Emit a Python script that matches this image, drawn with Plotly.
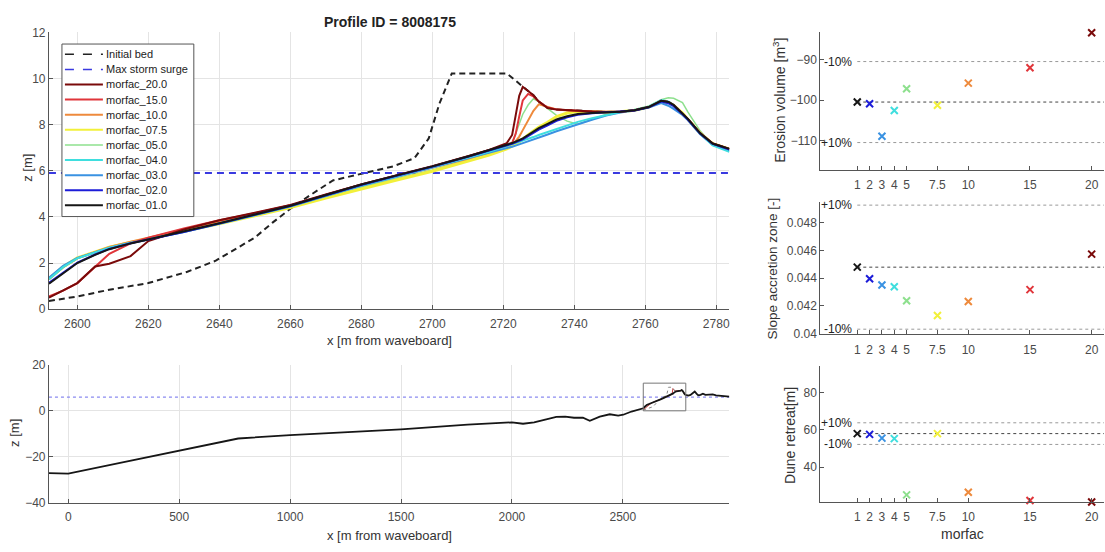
import plotly.graph_objects as go

# ---------------- data: main (zoomed) profile panel ----------------
x_grid = [2592, 2596, 2600, 2605, 2609, 2615, 2620, 2630, 2640, 2650, 2660, 2670, 2680, 2690,
          2700, 2710, 2716, 2721, 2722.5, 2723.5, 2724.5, 2725.5, 2727, 2728.5, 2730, 2732.5,
          2735, 2738, 2741, 2745, 2749, 2753, 2757, 2761, 2764.5, 2766.5, 2768, 2770.5, 2772,
          2775.5, 2779, 2783.7]

z_mf20 = [0.50, 0.80, 1.13, 1.85, 1.97, 2.30, 2.95, 3.45, 3.85, 4.18, 4.52, 4.97, 5.41, 5.81, 6.20,
          6.63, 6.90, 7.20, 7.55, 8.40, 9.25, 9.64, 9.45, 9.27, 9.00, 8.72, 8.65, 8.62, 8.60, 8.57,
          8.55, 8.56, 8.62, 8.76, 9.03, 8.98, 8.85, 8.50, 8.25, 7.62, 7.18, 6.95]
z_mf15 = [0.55, 0.80, 1.13, 1.85, 2.40, 2.85, 3.10, 3.50, 3.85, 4.16, 4.50, 4.96, 5.40, 5.80, 6.19,
          6.62, 6.88, 7.13, 7.20, 7.60, 8.35, 9.05, 9.33, 9.22, 9.00, 8.74, 8.66, 8.62, 8.60, 8.57,
          8.55, 8.56, 8.62, 8.76, 9.03, 8.98, 8.85, 8.50, 8.25, 7.62, 7.18, 6.95]
z_mf10 = [1.30, 1.82, 2.20, 2.48, 2.70, 2.92, 3.10, 3.45, 3.80, 4.14, 4.50, 4.93, 5.36, 5.74, 6.12,
          6.52, 6.80, 7.08, 7.16, 7.28, 7.48, 7.76, 8.20, 8.60, 8.88, 8.78, 8.66, 8.61, 8.58, 8.56,
          8.54, 8.56, 8.62, 8.76, 9.03, 8.98, 8.85, 8.50, 8.25, 7.62, 7.18, 6.95]
z_mf075 = [1.32, 1.84, 2.22, 2.48, 2.68, 2.89, 3.06, 3.37, 3.70, 4.04, 4.40, 4.82, 5.22, 5.60, 5.98,
           6.40, 6.68, 6.95, 7.05, 7.15, 7.25, 7.38, 7.55, 7.72, 7.88, 8.10, 8.35, 8.50, 8.57, 8.56,
           8.54, 8.56, 8.62, 8.76, 9.02, 8.96, 8.84, 8.50, 8.25, 7.62, 7.17, 6.93]
z_mf05 = [1.30, 1.80, 2.20, 2.48, 2.68, 2.88, 3.05, 3.35, 3.70, 4.05, 4.42, 4.85, 5.28, 5.65, 6.03,
          6.45, 6.72, 6.98, 7.20, 7.60, 8.05, 8.45, 8.85, 9.12, 9.00, 8.72, 8.40, 8.15, 8.02, 8.22,
          8.45, 8.56, 8.62, 8.80, 9.08, 9.16, 9.14, 8.95, 8.55, 7.72, 7.12, 6.85]
z_mf04 = [1.30, 1.82, 2.20, 2.46, 2.66, 2.88, 3.04, 3.35, 3.71, 4.08, 4.46, 4.91, 5.36, 5.75, 6.14,
          6.56, 6.82, 7.07, 7.13, 7.18, 7.23, 7.28, 7.37, 7.46, 7.55, 7.68, 7.82, 7.98, 8.12, 8.28,
          8.42, 8.55, 8.64, 8.79, 9.06, 9.00, 8.86, 8.50, 8.24, 7.60, 7.10, 6.82]
z_mf03 = [1.36, 1.88, 2.22, 2.47, 2.66, 2.87, 3.03, 3.34, 3.70, 4.07, 4.45, 4.90, 5.35, 5.74, 6.13,
          6.53, 6.77, 6.98, 7.04, 7.09, 7.14, 7.19, 7.27, 7.35, 7.44, 7.57, 7.71, 7.87, 8.02, 8.21,
          8.39, 8.52, 8.61, 8.74, 8.93, 8.82, 8.68, 8.42, 8.20, 7.58, 7.12, 6.85]
z_mf02 = [1.14, 1.58, 2.02, 2.37, 2.61, 2.86, 3.02, 3.34, 3.71, 4.09, 4.47, 4.93, 5.38, 5.78, 6.17,
          6.60, 6.86, 7.10, 7.17, 7.23, 7.29, 7.36, 7.50, 7.64, 7.78, 7.97, 8.16, 8.32, 8.43, 8.49,
          8.52, 8.55, 8.61, 8.75, 9.00, 8.93, 8.80, 8.46, 8.22, 7.60, 7.16, 6.92]
z_mf01 = [1.10, 1.55, 2.00, 2.35, 2.60, 2.85, 3.02, 3.35, 3.72, 4.10, 4.48, 4.95, 5.40, 5.80, 6.19,
          6.62, 6.88, 7.13, 7.20, 7.26, 7.32, 7.40, 7.55, 7.70, 7.85, 8.03, 8.22, 8.36, 8.46, 8.50,
          8.52, 8.56, 8.62, 8.76, 9.03, 8.98, 8.85, 8.50, 8.25, 7.62, 7.18, 6.95]

x_init = [2592, 2600, 2609, 2620, 2631, 2639, 2650, 2655, 2660, 2665, 2672, 2680, 2689, 2695, 2699,
          2702, 2705.5, 2721, 2725.5, 2727, 2728.5, 2730, 2732.5, 2735, 2741, 2749, 2753, 2757,
          2761, 2764.5, 2766.5, 2768, 2770.5, 2772, 2775.5, 2779, 2783.7]
z_init = [0.35, 0.55, 0.84, 1.13, 1.62, 2.10, 3.10, 3.75, 4.35, 4.88, 5.58, 5.88, 6.19, 6.55, 7.40,
          8.90, 10.22, 10.22, 9.64, 9.45, 9.27, 9.00, 8.72, 8.65, 8.60, 8.55, 8.56, 8.62, 8.76,
          9.03, 8.98, 8.85, 8.50, 8.25, 7.62, 7.18, 6.95]

storm_surge = 5.9

series_names = ["morfac_20.0", "morfac_15.0", "morfac_10.0", "morfac_07.5", "morfac_05.0",
                "morfac_04.0", "morfac_03.0", "morfac_02.0", "morfac_01.0"]
series_z = [z_mf20, z_mf15, z_mf10, z_mf075, z_mf05, z_mf04, z_mf03, z_mf02, z_mf01]
series_colors = ["#7a0a0a", "#e0353a", "#ee8a3c", "#f2f03a", "#8ee08e", "#3fdede", "#3a92e2",
                 "#1c1cd8", "#161616"]
series_widths = [2, 2, 2, 3, 1.5, 2, 2, 2, 2]

# ---------------- data: full profile (bottom-left) ----------------
x_offshore = [-87, 0, 250, 500, 766, 1000, 1250, 1500, 1800, 2000, 2050, 2100, 2150, 2200, 2240,
              2280, 2320, 2351, 2396, 2441, 2479, 2502, 2539, 2577]
z_offshore = [-27.0, -27.2, -22.2, -17.3, -12.0, -10.5, -9.3, -8.0, -6.0, -5.0, -5.6, -5.0, -3.8,
              -2.6, -2.5, -3.0, -3.0, -4.3, -2.5, -1.5, -2.1, -1.7, -0.3, 0.7]
x_landward = [2795, 2805, 2815, 2824, 2832, 2840, 2850, 2861, 2872, 2890, 2905, 2920, 2940, 2960, 2980]
z_landward = [6.6, 6.9, 7.6, 8.4, 7.5, 6.7, 6.9, 7.4, 6.9, 6.9, 7.1, 6.7, 6.5, 6.4, 6.2]

# ---------------- data: right panels ----------------
morfac = [1, 2, 3, 4, 5, 7.5, 10, 15, 20]
morfac_ticks = ["1", "2", "3", "4", "5", "7.5", "10", "15", "20"]
erosion_volume = [-100.5, -100.9, -109.0, -102.6, -97.2, -101.3, -95.8, -92.0, -83.3]
slope_accretion = [0.04479, 0.04395, 0.04350, 0.04338, 0.04236, 0.04130, 0.04231, 0.04317, 0.04573]
dune_retreat = [58.0, 57.6, 55.6, 55.3, 25.2, 58.0, 26.6, 22.2, 21.4]
marker_colors = ["#161616", "#1c1cd8", "#3a92e2", "#3fdede", "#8ee08e", "#f2f03a", "#ee8a3c",
                 "#e0353a", "#7a0a0a"]

# ---------------- figure ----------------
W, H = 1105, 552
FONT = "Liberation Sans, Arial, sans-serif"
TICKC = "#4a4a4a"
AXC = "#555555"
GRIDC = "#e4e4e4"


def px_x(p):
    return p / W


def px_y(p):
    return 1 - p / H


main_x_range = [2592, 2783.7]
main_y_range = [0, 12]

fig = go.Figure()

# main panel
fig.add_trace(go.Scatter(x=x_init, y=z_init, mode="lines", xaxis="x", yaxis="y",
                         line=dict(color="#222222", width=2, dash="6px,4px"), showlegend=False))
fig.add_trace(go.Scatter(x=main_x_range, y=[storm_surge, storm_surge], mode="lines", xaxis="x", yaxis="y",
                         line=dict(color="#3a3ae0", width=2, dash="7px,5px"), showlegend=False))
order = [4, 3, 2, 6, 5, 1, 0, 7, 8]
for i in order:
    fig.add_trace(go.Scatter(x=x_grid, y=series_z[i], mode="lines", xaxis="x", yaxis="y",
                             line=dict(color=series_colors[i], width=series_widths[i]),
                             name=series_names[i], showlegend=False))

# bottom-left full profile
x_full = x_offshore + x_grid + x_landward
z_full = z_offshore + z_mf01 + z_landward
bottom_x_range = [-87, 2980]
fig.add_trace(go.Scatter(x=bottom_x_range, y=[storm_surge, storm_surge], mode="lines", xaxis="x2", yaxis="y2",
                         line=dict(color="#8a8af0", width=1.2, dash="dot"), showlegend=False))
fig.add_trace(go.Scatter(x=x_grid, y=z_mf20, mode="lines", xaxis="x2", yaxis="y2",
                         line=dict(color="#d04040", width=1), showlegend=False))
fig.add_trace(go.Scatter(x=x_init, y=z_init, mode="lines", xaxis="x2", yaxis="y2",
                         line=dict(color="#888888", width=1, dash="dot"), showlegend=False))
fig.add_trace(go.Scatter(x=x_full, y=z_full, mode="lines", xaxis="x2", yaxis="y2",
                         line=dict(color="#161616", width=1.8), showlegend=False))

# right panels
right_data = [("x3", "y3", erosion_volume), ("x4", "y4", slope_accretion), ("x5", "y5", dune_retreat)]
for xa, ya, vals in right_data:
    ref = vals[0]
    for frac, col in [(0.9, "#9a9a9a"), (1.0, "#444444"), (1.1, "#9a9a9a")]:
        fig.add_trace(go.Scatter(x=[1, 21], y=[ref * frac, ref * frac], mode="lines", xaxis=xa, yaxis=ya,
                                 line=dict(color=col, width=1, dash="dot"), showlegend=False))
    fig.add_trace(go.Scatter(x=morfac, y=vals, mode="markers", xaxis=xa, yaxis=ya, cliponaxis=False,
                             marker=dict(symbol="x-thin", size=7, line=dict(width=2, color=marker_colors)),
                             showlegend=False))

# percentage labels (from reference values)
pct_labels = [("x3", "y3", erosion_volume[0] * 0.9, "-10%"), ("x3", "y3", erosion_volume[0] * 1.1, "+10%"),
              ("x4", "y4", slope_accretion[0] * 1.1, "+10%"), ("x4", "y4", slope_accretion[0] * 0.9, "-10%"),
              ("x5", "y5", dune_retreat[0] * 1.1, "+10%"), ("x5", "y5", dune_retreat[0] * 0.9, "-10%")]
annotations = []
for xa, ya, yv, txt in pct_labels:
    annotations.append(dict(x=0.75, y=yv, xref=xa, yref=ya, text=txt, showarrow=False,
                            xanchor="right", yanchor="middle", font=dict(family=FONT, size=12, color="#222222")))


# axis titles
def title_ann(x, y, text, angle=0, size=13):
    return dict(x=x, y=y, xref="paper", yref="paper", text=text, showarrow=False, textangle=angle,
                xanchor="center", yanchor="middle", font=dict(family=FONT, size=size, color="#333333"))


annotations += [
    dict(x=px_x(390), y=px_y(15), xref="paper", yref="paper", text="<b>Profile ID = 8008175</b>",
         showarrow=False, xanchor="center", yanchor="middle", font=dict(family=FONT, size=14, color="#222222")),
    title_ann(px_x(28), px_y(165), "z [m]", -90),
    title_ann(px_x(390), px_y(342), "x [m from waveboard]"),
    title_ann(px_x(15), px_y(437), "z [m]", -90),
    title_ann(px_x(390), px_y(542), "x [m from waveboard]"),
    title_ann(px_x(779), px_y(96), "Erosion volume [m<sup>3</sup>]", -90, 14),
    title_ann(px_x(773), px_y(268), "Slope accretion zone [-]", -90, 13.5),
    title_ann(px_x(791), px_y(440), "Dune retreat[m]", -90, 14),
    title_ann(px_x(963), px_y(541), "morfac", 0, 14),
]

# manual legend in main axes (domain coordinates)
leg_names = ["Initial bed", "Max storm surge"] + series_names
leg_colors = ["#222222", "#3a3ae0"] + series_colors
leg_dash = ["dash", "dash"] + ["solid"] * len(series_names)
leg_widths = [1.5, 1.5] + series_widths
main_px_w = 681
main_px_h = 284


def dx(p):
    return (p - 49) / main_px_w


def dy(p):
    return (310 - p) / main_px_h


shapes = [dict(type="rect", xref="x domain", yref="y domain", x0=dx(62), x1=dx(194), y0=dy(215), y1=dy(38),
               line=dict(color="#555555", width=1), fillcolor="white", layer="above")]
for k, (nm, col, ds, lw) in enumerate(zip(leg_names, leg_colors, leg_dash, leg_widths)):
    yp = 48.5 + 15.5 * k
    shapes.append(dict(type="line", xref="x domain", yref="y domain", x0=dx(65), x1=dx(103), y0=dy(yp), y1=dy(yp),
                       line=dict(color=col, width=min(lw, 2), dash=ds), layer="above"))
    annotations.append(dict(x=dx(104), y=dy(yp), xref="x domain", yref="y domain", text=nm, showarrow=False,
                            xanchor="left", yanchor="middle", font=dict(family=FONT, size=11, color="#222222")))

# zoom box in bottom panel (main panel extent)
shapes.append(dict(type="rect", xref="x2", yref="y2", x0=main_x_range[0], x1=main_x_range[1],
                   y0=main_y_range[0], y1=main_y_range[1], line=dict(color="#777777", width=1)))

tickfont = dict(family=FONT, size=12, color=TICKC)
common_ax = dict(showline=True, linecolor=AXC, linewidth=1, ticks="inside", ticklen=4, tickcolor=AXC,
                 tickfont=tickfont, zeroline=False, mirror=False)

fig.update_layout(
    width=W, height=H, margin=dict(l=0, r=0, t=0, b=0),
    paper_bgcolor="white", plot_bgcolor="white", showlegend=False,
    xaxis=dict(domain=[px_x(49), px_x(730)], range=main_x_range, anchor="y", ticklabelstandoff=3,
               tickvals=list(range(2600, 2781, 20)), showgrid=True, gridcolor=GRIDC, **common_ax),
    yaxis=dict(domain=[px_y(310), px_y(26)], range=main_y_range, anchor="x",
               tickvals=list(range(0, 13, 2)), showgrid=True, gridcolor=GRIDC, **common_ax),
    xaxis2=dict(domain=[px_x(49), px_x(730)], range=bottom_x_range, anchor="y2", ticklabelstandoff=3,
                tickvals=[0, 500, 1000, 1500, 2000, 2500], showgrid=True, gridcolor=GRIDC, **common_ax),
    yaxis2=dict(domain=[px_y(509), px_y(367)], range=[-40, 20], anchor="x2",
                tickvals=[-40, -20, 0, 20], showgrid=True, gridcolor=GRIDC, **common_ax),
    xaxis3=dict(domain=[px_x(821), 1.0], range=[-2, 21], anchor="y3", tickvals=morfac, ticktext=morfac_ticks,
                ticklabelstandoff=4, showgrid=False, **common_ax),
    yaxis3=dict(domain=[px_y(167), px_y(26)], range=[-117.3, -83.2], anchor="x3",
                tickvals=[-110, -100, -90], showgrid=False, **common_ax),
    xaxis4=dict(domain=[px_x(821), 1.0], range=[-2, 21], anchor="y4", tickvals=morfac, ticktext=morfac_ticks,
                ticklabelstandoff=5, showgrid=False, **common_ax),
    yaxis4=dict(domain=[px_y(335), px_y(200)], range=[0.040, 0.0495], anchor="x4",
                tickvals=[0.04, 0.042, 0.044, 0.046, 0.048], ticktext=["0.04", "0.042", "0.044", "0.046", "0.048"],
                showgrid=False, **common_ax),
    xaxis5=dict(domain=[px_x(821), 1.0], range=[-2, 21], anchor="y5", tickvals=morfac, ticktext=morfac_ticks,
                ticklabelstandoff=3, showgrid=False, **common_ax),
    yaxis5=dict(domain=[px_y(508), px_y(368)], range=[21.3, 94.4], anchor="x5",
                tickvals=[40, 60, 80], showgrid=False, **common_ax),
    annotations=annotations,
    shapes=shapes,
)

fig.write_html("out.html")
